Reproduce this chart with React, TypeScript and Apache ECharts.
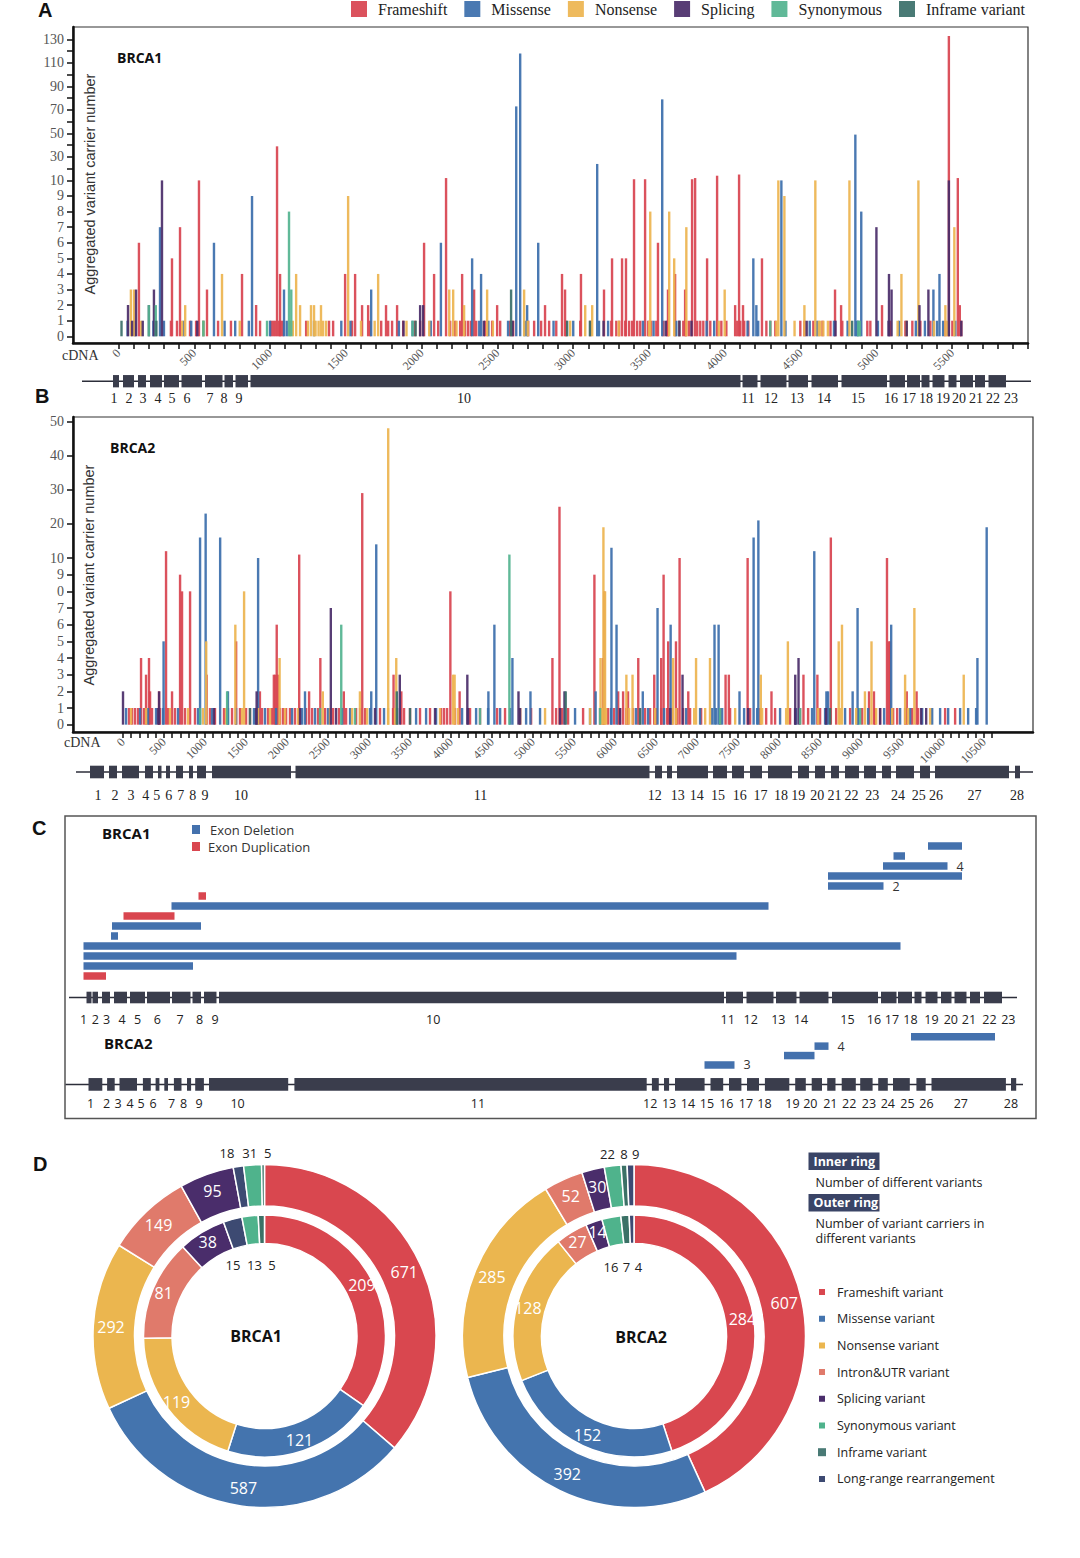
import React, { useEffect, useRef } from 'react';
import * as echarts from 'echarts';

type Pt = [number, number];

const SERIF = '"Liberation Serif", "Times New Roman", serif';
const SANS = '"Open Sans", "Noto Sans", sans-serif';
const ARIAL = '"Liberation Sans", Arial, sans-serif';

const VARIANT_TYPES = ['Frameshift', 'Missense', 'Nonsense', 'Splicing', 'Synonymous', 'Inframe variant'];
const VARIANT_COLORS = ['#d8434f', '#3b6eab', '#edb44f', '#4a2c69', '#52b38f', '#3a6f69'];

// ---------------- Panel A : BRCA1 (cDNA position, carrier number) ----------------
const BRCA1_FRAMESHIFT: Pt[] = [[135,6],[353,5],[406,7],[531,10],[584,3],[815,4],[908,2],[1046,39],[1066,4],[1495,4],[1561,4],[1607,2],[1647,2],[1765,2],[1838,2],[2016,6],[2082,4],[2161,12],[2267,4],[2346,3],[2498,2],[2814,2],[2926,4],[2946,3],[3051,4],[3203,3],[3256,5],[3322,5],[3348,5],[3401,11],[3474,11],[3559,6],[3625,3],[3672,4],[3738,3],[3784,11],[3804,12],[3883,5],[3949,14],[4068,2],[4094,15],[4120,2],[4245,5],[4727,3],[4767,2],[5037,2],[5478,133],[5537,12],[5550,2]];
const BRCA1_FRAMESHIFT_SINGLE = [346,386,472,512,657,742,934,1006,1020,1033,1059,1072,1086,1238,1389,1416,1541,1660,1733,1779,1805,1878,1957,1990,2109,2188,2221,2254,2287,2307,2326,2360,2419,2465,2518,2584,2604,2703,2742,2788,2841,2888,2954,3046,3112,3251,3284,3303,3343,3369,3389,3422,3442,3494,3514,3548,3594,3620,3726,3746,3765,3818,3838,3858,3904,3977,4010,4082,4102,4128,4155,4274,4300,4333,4498,4525,4584,4644,4697,4775,4940,4960,5092,5191,5237,5290,5356,5455,5501,5560];
const BRCA1_MISSENSE: Pt[] = [[274,7],[630,6],[881,9],[1092,3],[1667,3],[2127,6],[2333,5],[2392,4],[2696,2],[2769,6],[2624,73],[2650,118],[3158,24],[3587,79],[4188,5],[4208,2],[4373,10],[4861,49],[4900,8],[5376,3],[5416,4]];
const BRCA1_MISSENSE_SINGLE = [60,110,230,300,430,480,560,700,770,860,1000,1110,1290,1470,1530,1850,1940,2060,2380,2440,2570,2680,2870,3000,3170,3230,3460,3530,3680,3700,3880,3930,4150,4220,4400,4560,4610,4720,4810,4870,4880,5010,5150,5260,5320,5400,5440,5520];
const BRCA1_NONSENSE: Pt[] = [[82,3],[103,3],[440,2],[683,4],[1172,4],[1198,2],[1270,2],[1290,2],[1336,2],[1515,9],[1713,4],[2182,3],[2208,3],[2280,2],[2432,3],[2676,3],[3079,2],[3125,2],[3508,8],[3633,8],[3666,5],[3746,7],[3999,3],[4353,10],[4393,9],[4525,2],[4597,10],[4822,10],[5165,4],[5277,10],[5455,2],[5514,7]];
const BRCA1_NONSENSE_SINGLE = [150,420,560,800,1130,1150,1250,1300,1320,1350,1370,1600,1690,1900,2050,2230,2470,2700,2980,3300,3500,3700,3960,4340,4460,4620,4630,4650,4680,5140,5200,5380,5470];
const BRCA1_SPLICING: Pt[] = [[63,2],[116,3],[201,2],[234,3],[287,10],[1990,2],[2010,2],[5000,7],[5083,4],[5100,3],[5284,2],[5343,3],[5478,10]];
const BRCA1_SPLICING_SINGLE = [90,160,520,1880,2410,2600,3200,3610,3700,3780,4540,4730,5080,5200,5560];
const BRCA1_SYNONYMOUS: Pt[] = [[200,2],[246,2],[1125,8],[1140,3]];
const BRCA1_SYNONYMOUS_SINGLE = [560,980,1940,4300,4880,4890];
const BRCA1_INFRAME: Pt[] = [[2590,3]];
const BRCA1_INFRAME_SINGLE = [20,250,1960,2960,3110,4840];

// ---------------- Panel B : BRCA2 ----------------
const BRCA2_FRAMESHIFT: Pt[] = [[220,4],[281,3],[317,4],[330,2],[440,2],[525,12],[598,2],[696,9],[720,8],[818,8],[1020,3],[1380,5],[1670,2],[1840,3],[1860,3],[1875,6],[1895,3],[2149,11],[2270,2],[2407,4],[2693,2],[2918,29],[3300,3],[3395,2],[3993,8],[4106,2],[5238,4],[5324,25],[5750,9],[5855,4],[5870,8],[6040,2],[6100,2],[6160,2],[6285,4],[6480,3],[6565,4],[6594,9],[6650,5],[6745,5],[6789,10],[6895,2],[7350,3],[7390,3],[7619,10],[7910,2],[8300,3],[8470,3],[8634,16],[9100,2],[9160,2],[9319,10],[9340,5],[9355,5],[9560,2],[9680,2]];
const BRCA2_FRAMESHIFT_SINGLE = [73,110,146,183,256,354,451,549,634,756,878,1061,1122,1232,1330,1427,1501,1549,1696,1769,1818,1915,1952,1989,2037,2098,2159,2233,2306,2379,2465,2562,2635,2721,2843,2892,2953,3135,3294,3428,3501,3623,3745,3880,3916,3953,4050,4233,4355,4563,4660,4843,4978,5283,5356,5429,5612,5819,5917,5990,6063,6137,6222,6307,6368,6429,6503,6564,6637,6698,6759,6832,6917,7052,7283,7405,7649,7771,7845,7954,8137,8259,8357,8503,8699,8869,9016,9174,9235,9394,9443,9540,9626,9699,10028,10150];
const BRCA2_MISSENSE: Pt[] = [[495,5],[940,16],[1008,23],[1185,16],[1280,2],[1648,10],[2220,2],[3028,2],[3089,14],[4457,2],[4530,6],[4750,4],[4970,2],[5765,2],[5958,13],[6020,6],[6340,2],[6520,7],[6680,6],[7215,6],[7265,6],[7520,2],[7692,16],[7750,21],[8432,12],[8580,2],[8600,2],[8900,2],[8960,7],[9370,6],[10422,4],[10535,19]];
const BRCA2_MISSENSE_SINGLE = [37,208,305,403,488,671,915,1086,1281,1379,1598,1732,1867,2062,2184,2342,2501,2672,2770,3013,3184,3343,3575,3697,3819,4136,4307,4453,4600,4722,4917,5087,5514,5697,5953,6258,6405,6600,6869,7039,7186,7235,7308,7576,7735,8015,8210,8405,8564,8808,8967,9089,9284,9479,9601,9748,9870,9967,10065,10211,10309,10406];
const BRCA2_NONSENSE: Pt[] = [[1015,5],[1370,6],[1477,8],[1910,4],[2437,2],[2890,2],[3235,48],[3333,4],[4026,3],[4045,3],[5825,4],[5860,19],[5880,8],[6140,3],[6215,3],[6710,4],[6990,4],[7160,4],[7780,3],[8110,5],[8730,5],[8770,6],[9050,2],[9130,5],[9540,3],[9653,7],[10255,3]];
const BRCA2_NONSENSE_SINGLE = [98,281,573,793,976,1257,1452,1647,1793,1976,2135,2525,2794,2977,3233,3318,3867,4087,4843,5148,5697,5844,5892,6173,6490,6747,6967,7101,7467,7796,8089,8479,8747,8943,9187,9382,9577,9845];
const BRCA2_SPLICING: Pt[] = [[0,2],[440,2],[1630,2],[2535,7],[3376,3],[4200,3],[4824,2],[5385,2],[6825,3],[8200,3],[8240,4]];
const BRCA2_SPLICING_SINGLE = [427,1110,1623,2159,2599,3074,3806,4209,4843,5331,6063,6673,7625,8198,8576,9235,9736,9797];
const BRCA2_SYNONYMOUS: Pt[] = [[1270,2],[2662,6],[4713,11]];
const BRCA2_SYNONYMOUS_SINGLE = [940,2403,2830,4355,5819,7283,8259,8991];
const BRCA2_INFRAME: Pt[] = [[3340,2],[5400,2]];
const BRCA2_INFRAME_SINGLE = [1549,3501,6307,8625];

// ---------------- axis ticks / labels ----------------
const A_X_LABELS = [0,500,1000,1500,2000,2500,3000,3500,4000,4500,5000,5500];
const B_X_LABELS = [0,500,1000,1500,2000,2500,3000,3500,4000,4500,5000,5500,6000,6500,7000,7500,8000,8500,9000,9500,10000,10500];
const A_Y_LABELS = [0,1,2,3,4,5,6,7,8,9,10,30,50,70,90,110,130];
const A_Y_MINOR = [20,40,60,80,100,120];
const B_Y_VALUES = [0,1,2,3,4,5,6,7,8,9,10,20,30,40,50];
const B_Y_TEXT = ['0','1','2','3','4','5','6','7','0','9','10','20','30','40','50'];
const Y_NAME = 'Aggregated variant carrier number';

// ---------------- gene schematics (schematic units along the panel) ----------------
const A_GENE_LINE = [22, 971];
const A_GENE_EXONS = [[53,59],[63,74],[78,86],[90,102],[104,119],[121.5,142],[145,162.5],[164.5,173],[175.5,188],[190.5,680.5],[682.5,697.5],[700.5,726.5],[728.5,748],[751.5,778],[781.5,827],[829.5,845],[847,860],[861.5,869.5],[872.5,884.5],[888.5,896.5],[900,913],[915,925],[928.5,946]];
const A_GENE_LABEL_AT = [54,69,83,98,112,127,150,164,179,404,688,711,737,764,798,831,849,866,883,899,916,933,951];
const B_GENE_LINE = [16, 973];
const B_GENE_EXONS = [[30,44],[49,57],[62,79],[85,93],[98,101.5],[106,110],[116,123],[129,133],[137,146],[152,231],[235.5,589.5],[595,602],[607,612],[617,648],[653,667],[672,684],[690,702],[708,732],[738,749],[755,765],[771,779],[785,799],[804,816],[822,831],[836,854],[860,870],[875,949],[955,960]];
const B_GENE_LABEL_AT = [38,55,71,85.7,96.7,108.7,120.8,132.8,144.9,181,420.4,594.7,617.7,636.7,658,679.7,700.4,721,738.3,757.2,774.4,791.6,812.3,838,858.8,876,914.6,957];
const C1_GENE_LINE = [9, 957];
const C1_GENE_EXONS = [[26.5,31.5],[32.5,38],[42,50],[54,67],[70,85],[87,110],[112,130.5],[132.5,141],[144,156.5],[159,664],[666,683],[686.5,713.5],[716,736.5],[739.5,768.5],[772,818],[821,836.5],[838,852],[854.5,861.5],[865.5,877.5],[881,891.5],[894.5,906.5],[910,920],[924,942]];
const C1_GENE_LABEL_AT = [23.7,35.4,46.7,62.2,77.7,97.4,120.1,139.7,155.2,373.2,667.7,690.7,718.3,741,787.5,814,832,850.5,871.5,890.8,909,929.4,948.3];
const C2_GENE_LINE = [5.5, 963];
const C2_GENE_EXONS = [[28.5,42.3],[47.1,54.7],[59.5,77],[82.9,90.8],[95.6,99.4],[104.3,108],[113.9,121.5],[127,131.1],[135.2,143.9],[149,228.2],[234.4,586.7],[591.9,598.8],[604,609.1],[615,644.6],[650.5,663.2],[669,681.4],[687,699],[704.9,729.3],[735.2,745.8],[751.7,762],[767.2,775.5],[781.7,795.8],[800.2,812.6],[818.2,827.8],[833,849.8],[856.4,865.7],[871.5,945.9],[951,956.2]];
const C2_GENE_LABEL_AT = [30.6,46.7,58.1,70.2,81.2,93.2,111.5,123.5,139,177.6,418,590.2,609.1,628,647,666.3,686,704.5,732.4,750.3,770.3,789.2,808.9,827.8,847.4,866.4,900.8,951];

// ---------------- Panel C : large rearrangements [start, end, lane, kind(0 del / 1 dup), carriers] ----------------
const C1_REARR = [[868,902,13,0,1],[833.5,845,12,0,1],[823,887.5,11,0,4],[768,902,10,0,1],[768,823.5,9,0,2],[138.5,146,8,1,1],[111.5,708.5,7,0,1],[63.5,114.5,6,1,1],[52,141,5,0,1],[51,58,4,0,1],[23.5,840.5,3,0,1],[23.5,676.5,2,0,1],[23.5,133,1,0,1],[23.5,46,0,1,1]];
const C2_REARR = [[851,935,3,0,1],[754.5,768.5,2,0,4],[724,754.5,1,0,1],[644.5,674.5,0,0,3]];

// ---------------- Panel D : donuts ----------------
const PIE_NAMES = ['Frameshift variant','Missense variant','Nonsense variant','Intron&UTR variant','Splicing variant','Synonymous variant','Inframe variant','Long-range rearrangement'];
const PIE_COLORS = ['#d9474f','#4474ae','#ebb64f','#e07a6b','#4a2d6b','#4fb38c','#3b7166','#3d4a72'];
const BRCA1_ORDER = ['Frameshift variant','Missense variant','Nonsense variant','Intron&UTR variant','Splicing variant','Long-range rearrangement','Synonymous variant','Inframe variant'];
const BRCA1_OUTER = [671,587,292,149,95,18,31,5];
const BRCA1_INNER = [209,121,119,81,38,15,13,5];
const BRCA2_ORDER = ['Frameshift variant','Missense variant','Nonsense variant','Intron&UTR variant','Splicing variant','Synonymous variant','Inframe variant','Long-range rearrangement'];
const BRCA2_OUTER = [607,392,285,52,30,22,8,9];
const BRCA2_INNER = [284,152,128,27,14,16,7,4];

const GENE_COLOR = '#3a3d4c';
const DEL_COLOR = '#4471ad';
const DUP_COLOR = '#d9464f';

const A_BREAK = 0.07535;
const B_BREAK = 0.205;
const tA = (v: number) => (v <= 10 ? v : 10 + (v - 10) * A_BREAK);
const tB = (v: number) => (v <= 10 ? v : 10 + (v - 10) * B_BREAK);

function range(a: number, b: number, s: number) {
  const out: number[] = [];
  for (let v = a; v <= b + 1e-9; v += s) out.push(v);
  return out;
}

function barSeries(idx: number, name: string, color: string, pts: Pt[], singles: number[], tf: (v: number) => number) {
  const all: Pt[] = [...pts, ...singles.map((c) => [c, 1] as Pt)];
  return {
    type: 'bar', name, xAxisIndex: idx, yAxisIndex: idx, barWidth: 2.4, barGap: '-100%', silent: true,
    itemStyle: { color, opacity: 0.92 },
    data: all.map(([c, v]) => [c, tf(v)]),
  };
}

function geneSeries(idx: number, line: number[], exons: number[][], labelAt: number[], h: number, dy: number, font: string, size: number) {
  const data = [[line[0], line[1], 0, 0], ...exons.map((e, i) => [e[0], e[1], i + 1, labelAt[i]])];
  return {
    type: 'custom', xAxisIndex: idx, yAxisIndex: idx, silent: true, clip: false, data,
    renderItem: (params: any, api: any) => {
      const a = api.coord([api.value(0), 0.5]);
      const b = api.coord([api.value(1), 0.5]);
      const n = api.value(2);
      if (n === 0) {
        return { type: 'line', shape: { x1: a[0], y1: a[1], x2: b[0], y2: b[1] }, style: { stroke: '#2c2e3a', lineWidth: 1.5 } };
      }
      const l = api.coord([api.value(3), 0.5]);
      return {
        type: 'group',
        children: [
          { type: 'rect', shape: { x: a[0], y: a[1] - h / 2, width: b[0] - a[0], height: h }, style: { fill: GENE_COLOR } },
          { type: 'text', style: { text: String(n), x: l[0], y: a[1] + dy, align: 'center', verticalAlign: 'middle', fontFamily: font, fontSize: size, fill: '#222' } },
        ],
      };
    },
  };
}

function rearrSeries(idx: number, rows: number[][]) {
  return {
    type: 'custom', xAxisIndex: idx, yAxisIndex: idx, silent: true, clip: false, data: rows,
    renderItem: (params: any, api: any) => {
      const a = api.coord([api.value(0), api.value(2)]);
      const b = api.coord([api.value(1), api.value(2)]);
      const h = 7.5;
      const children: any[] = [
        { type: 'rect', shape: { x: a[0], y: a[1] - h / 2, width: b[0] - a[0], height: h }, style: { fill: api.value(3) ? DUP_COLOR : DEL_COLOR } },
      ];
      const cnt = api.value(4);
      if (cnt > 1) {
        children.push({ type: 'text', style: { text: String(cnt), x: b[0] + 9, y: a[1], align: 'left', verticalAlign: 'middle', fontFamily: SANS, fontSize: 12.5, fill: '#333' } });
      }
      return { type: 'group', children };
    },
  };
}

function pieSeries(center: number[], radius: number[], order: string[], values: number[]) {
  return {
    type: 'pie', center, radius, startAngle: 90, clockwise: true, silent: true, avoidLabelOverlap: false,
    itemStyle: { borderColor: '#ffffff', borderWidth: 1.5 },
    label: { show: true, position: 'inside', formatter: '{c}', color: '#ffffff', fontSize: 16, fontFamily: SANS },
    labelLine: { show: false },
    emphasis: { disabled: true },
    data: order.map((n, i) => ({
      name: n, value: values[i],
      itemStyle: { color: PIE_COLORS[PIE_NAMES.indexOf(n)] },
      label: i >= 5 ? { show: false } : undefined,
    })),
  };
}

function txt(x: number, y: number, text: string, o: any = {}) {
  return {
    type: 'text', silent: true,
    style: {
      text, x, y, fill: o.color || '#111', fontSize: o.size || 13, fontFamily: o.family || SANS, fontWeight: o.weight || 'normal',
      align: o.align || 'left', verticalAlign: 'middle', textAlign: o.align || 'left', textVerticalAlign: 'middle',
    },
  };
}

function vtxt(x: number, y: number, text: string) {
  return {
    type: 'text', silent: true, x, y, rotation: Math.PI / 2,
    style: {
      text, x: 0, y: 0, fill: '#333', fontSize: 14.5, fontFamily: ARIAL,
      align: 'center', verticalAlign: 'middle', textAlign: 'center', textVerticalAlign: 'middle',
    },
  };
}

function hiddenAxis(idx: number, min: number, max: number) {
  return { gridIndex: idx, type: 'value', min, max, show: false };
}

function buildOption() {
  const A_Y_POS = A_Y_LABELS.map(tA);
  const B_Y_POS = B_Y_VALUES.map(tB);
  const axisLineStyle = { color: '#111', width: 2.5 };
  const tickStyle = { color: '#111', width: 1.5 };

  const xA = {
    gridIndex: 0, type: 'value', min: -300, max: 6000,
    axisLine: { show: true, onZero: false, lineStyle: axisLineStyle },
    axisTick: { show: true, customValues: range(0, 6000, 100), length: 6, lineStyle: tickStyle },
    axisLabel: { customValues: A_X_LABELS, rotate: 45, formatter: (v: number) => String(v), fontFamily: SERIF, fontSize: 12, color: '#555', margin: 8 },
    splitLine: { show: false },
  };
  const yA = {
    gridIndex: 0, type: 'value', min: -0.43, max: 19.84,
    axisLine: { show: true, onZero: false, lineStyle: axisLineStyle },
    axisTick: { show: true, customValues: [...A_Y_LABELS, ...A_Y_MINOR].map(tA), length: 6, lineStyle: tickStyle },
    axisLabel: {
      customValues: A_Y_POS, fontFamily: SERIF, fontSize: 14, color: '#555', margin: 9,
      formatter: (v: number) => { const i = A_Y_POS.findIndex((p) => Math.abs(p - v) < 1e-3); return i >= 0 ? String(A_Y_LABELS[i]) : ''; },
    },
    splitLine: { show: false },
  };
  const xB = {
    gridIndex: 1, type: 'value', min: -610, max: 11100,
    axisLine: { show: true, onZero: false, lineStyle: axisLineStyle },
    axisTick: { show: true, customValues: range(0, 10600, 100), length: 6, lineStyle: tickStyle },
    axisLabel: { customValues: B_X_LABELS, rotate: 45, formatter: (v: number) => String(v), fontFamily: SERIF, fontSize: 12, color: '#555', margin: 8 },
    splitLine: { show: false },
  };
  const yB = {
    gridIndex: 1, type: 'value', min: -0.44, max: 18.46,
    axisLine: { show: true, onZero: false, lineStyle: axisLineStyle },
    axisTick: { show: true, customValues: B_Y_POS, length: 6, lineStyle: tickStyle },
    axisLabel: {
      customValues: B_Y_POS, fontFamily: SERIF, fontSize: 14, color: '#555', margin: 9,
      formatter: (v: number) => { const i = B_Y_POS.findIndex((p) => Math.abs(p - v) < 1e-3); return i >= 0 ? B_Y_TEXT[i] : ''; },
    },
    splitLine: { show: false },
  };

  const series: any[] = [];
  const a1 = [
    [BRCA1_FRAMESHIFT, BRCA1_FRAMESHIFT_SINGLE], [BRCA1_MISSENSE, BRCA1_MISSENSE_SINGLE], [BRCA1_NONSENSE, BRCA1_NONSENSE_SINGLE],
    [BRCA1_SPLICING, BRCA1_SPLICING_SINGLE], [BRCA1_SYNONYMOUS, BRCA1_SYNONYMOUS_SINGLE], [BRCA1_INFRAME, BRCA1_INFRAME_SINGLE],
  ];
  const b2 = [
    [BRCA2_FRAMESHIFT, BRCA2_FRAMESHIFT_SINGLE], [BRCA2_MISSENSE, BRCA2_MISSENSE_SINGLE], [BRCA2_NONSENSE, BRCA2_NONSENSE_SINGLE],
    [BRCA2_SPLICING, BRCA2_SPLICING_SINGLE], [BRCA2_SYNONYMOUS, BRCA2_SYNONYMOUS_SINGLE], [BRCA2_INFRAME, BRCA2_INFRAME_SINGLE],
  ];
  VARIANT_TYPES.forEach((name, i) => series.push(barSeries(0, name, VARIANT_COLORS[i], a1[i][0] as Pt[], a1[i][1] as number[], tA)));
  VARIANT_TYPES.forEach((name, i) => series.push(barSeries(1, name, VARIANT_COLORS[i], b2[i][0] as Pt[], b2[i][1] as number[], tB)));

  series.push(geneSeries(2, A_GENE_LINE, A_GENE_EXONS, A_GENE_LABEL_AT, 12.3, 17, SERIF, 14));
  series.push(geneSeries(3, B_GENE_LINE, B_GENE_EXONS, B_GENE_LABEL_AT, 12.6, 23, SERIF, 14));
  series.push(rearrSeries(4, C1_REARR));
  series.push(geneSeries(5, C1_GENE_LINE, C1_GENE_EXONS, C1_GENE_LABEL_AT, 11.6, 21.5, SANS, 12.5));
  series.push(rearrSeries(6, C2_REARR));
  series.push(geneSeries(7, C2_GENE_LINE, C2_GENE_EXONS, C2_GENE_LABEL_AT, 12.7, 18.6, SANS, 12.5));

  series.push(pieSeries([264.5, 1336], [130, 171.5], BRCA1_ORDER, BRCA1_OUTER));
  series.push(pieSeries([264.5, 1336], [92.5, 121], BRCA1_ORDER, BRCA1_INNER));
  series.push(pieSeries([634, 1336], [130, 171.5], BRCA2_ORDER, BRCA2_OUTER));
  series.push(pieSeries([634, 1336], [92.5, 121], BRCA2_ORDER, BRCA2_INNER));

  const smallLabels: any[] = [];
  const sl = (xs: number[], y: number, vals: number[]) => xs.forEach((x, i) => smallLabels.push(txt(x, y, String(vals[5 + i]), { size: 13, color: '#222', align: 'center' })));
  sl([227, 249.8, 267.7], 1152.7, BRCA1_OUTER);
  sl([233, 254.5, 272], 1265, BRCA1_INNER);
  sl([607.4, 624, 635.6], 1154, BRCA2_OUTER);
  sl([611, 626.4, 638.5], 1266.7, BRCA2_INNER);

  const badge = (y: number, label: string) => [
    { type: 'rect', silent: true, shape: { x: 808.5, y, width: 71, height: 17.5 }, style: { fill: '#3a4466' } },
    txt(813.5, y + 8.8, label, { size: 12.5, weight: 'bold', color: '#ffffff' }),
  ];

  const graphic: any[] = [
    txt(38, 10, 'A', { size: 20, weight: 'bold', family: ARIAL }),
    txt(117, 57, 'BRCA1', { size: 14, weight: 'bold' }),
    vtxt(89.5, 184, Y_NAME),
    txt(62, 355, 'cDNA', { size: 14, family: SERIF, color: '#333' }),
    txt(35, 396, 'B', { size: 20, weight: 'bold', family: ARIAL }),
    txt(110, 447.5, 'BRCA2', { size: 14, weight: 'bold' }),
    vtxt(89, 575, Y_NAME),
    txt(64, 742, 'cDNA', { size: 14, family: SERIF, color: '#333' }),
    { type: 'rect', silent: true, shape: { x: 65, y: 816, width: 971, height: 302.5 }, style: { fill: 'none', stroke: '#555', lineWidth: 1.5 } },
    txt(32, 828, 'C', { size: 20, weight: 'bold', family: ARIAL }),
    txt(102, 833, 'BRCA1', { size: 15, weight: 'bold' }),
    { type: 'rect', silent: true, shape: { x: 192, y: 825, width: 8, height: 9 }, style: { fill: DEL_COLOR } },
    txt(210, 829.5, 'Exon Deletion', { size: 13, color: '#333' }),
    { type: 'rect', silent: true, shape: { x: 192, y: 842, width: 8, height: 9 }, style: { fill: DUP_COLOR } },
    txt(208, 846.5, 'Exon Duplication', { size: 13, color: '#333' }),
    txt(104, 1043, 'BRCA2', { size: 15, weight: 'bold' }),
    txt(33, 1164, 'D', { size: 20, weight: 'bold', family: ARIAL }),
    txt(256, 1336, 'BRCA1', { size: 16, weight: 'bold', align: 'center' }),
    txt(641, 1337, 'BRCA2', { size: 16, weight: 'bold', align: 'center' }),
    ...badge(1152.5, 'Inner ring'),
    txt(815.5, 1182, 'Number of different variants', { size: 12.5, color: '#222' }),
    ...badge(1194, 'Outer ring'),
    txt(815.5, 1223, 'Number of variant carriers in', { size: 12.5, color: '#222' }),
    txt(815.5, 1238, 'different variants', { size: 12.5, color: '#222' }),
    ...smallLabels,
  ];

  return {
    animation: false,
    backgroundColor: '#ffffff',
    legend: [
      {
        data: VARIANT_TYPES, left: 346, top: -4, itemWidth: 16, itemHeight: 16, itemGap: 17, icon: 'rect', selectedMode: false,
        textStyle: { fontFamily: SERIF, fontSize: 16, color: '#222', padding: [0, 0, 0, 6] },
      },
      {
        data: PIE_NAMES, orient: 'vertical', left: 812, top: 1279, itemWidth: 8, itemHeight: 8, itemGap: 10.7, icon: 'rect', selectedMode: false,
        textStyle: { fontFamily: SANS, fontSize: 12.5, color: '#222', lineHeight: 16, padding: [0, 0, 0, 6] },
      },
    ],
    grid: [
      { left: 73, top: 27, width: 955, height: 316, show: true, borderColor: '#333', borderWidth: 1.2 },
      { left: 73, top: 417, width: 960, height: 315, show: true, borderColor: '#333', borderWidth: 1.2 },
      { left: 60, top: 371.2, width: 980, height: 20 },
      { left: 60, top: 762, width: 980, height: 20 },
      { left: 60, top: 841, width: 980, height: 140 },
      { left: 60, top: 987.5, width: 980, height: 20 },
      { left: 60, top: 1032, width: 980, height: 37.7 },
      { left: 60, top: 1074.4, width: 980, height: 20 },
    ],
    xAxis: [xA, xB, hiddenAxis(2, 0, 980), hiddenAxis(3, 0, 980), hiddenAxis(4, 0, 980), hiddenAxis(5, 0, 980), hiddenAxis(6, 0, 980), hiddenAxis(7, 0, 980)],
    yAxis: [yA, yB, hiddenAxis(2, 0, 1), hiddenAxis(3, 0, 1), hiddenAxis(4, -0.5, 13.5), hiddenAxis(5, 0, 1), hiddenAxis(6, -0.5, 3.5), hiddenAxis(7, 0, 1)],
    series,
    graphic,
  };
}

export default function App() {
  const ref = useRef<HTMLDivElement>(null);
  useEffect(() => {
    const chart = echarts.init(ref.current as HTMLDivElement, undefined, { renderer: 'svg' });
    chart.setOption(buildOption() as any);
    return () => chart.dispose();
  }, []);
  return <div ref={ref} style={{ position: 'absolute', left: 0, top: 0, width: 1080, height: 1558, background: '#ffffff' }} />;
}
